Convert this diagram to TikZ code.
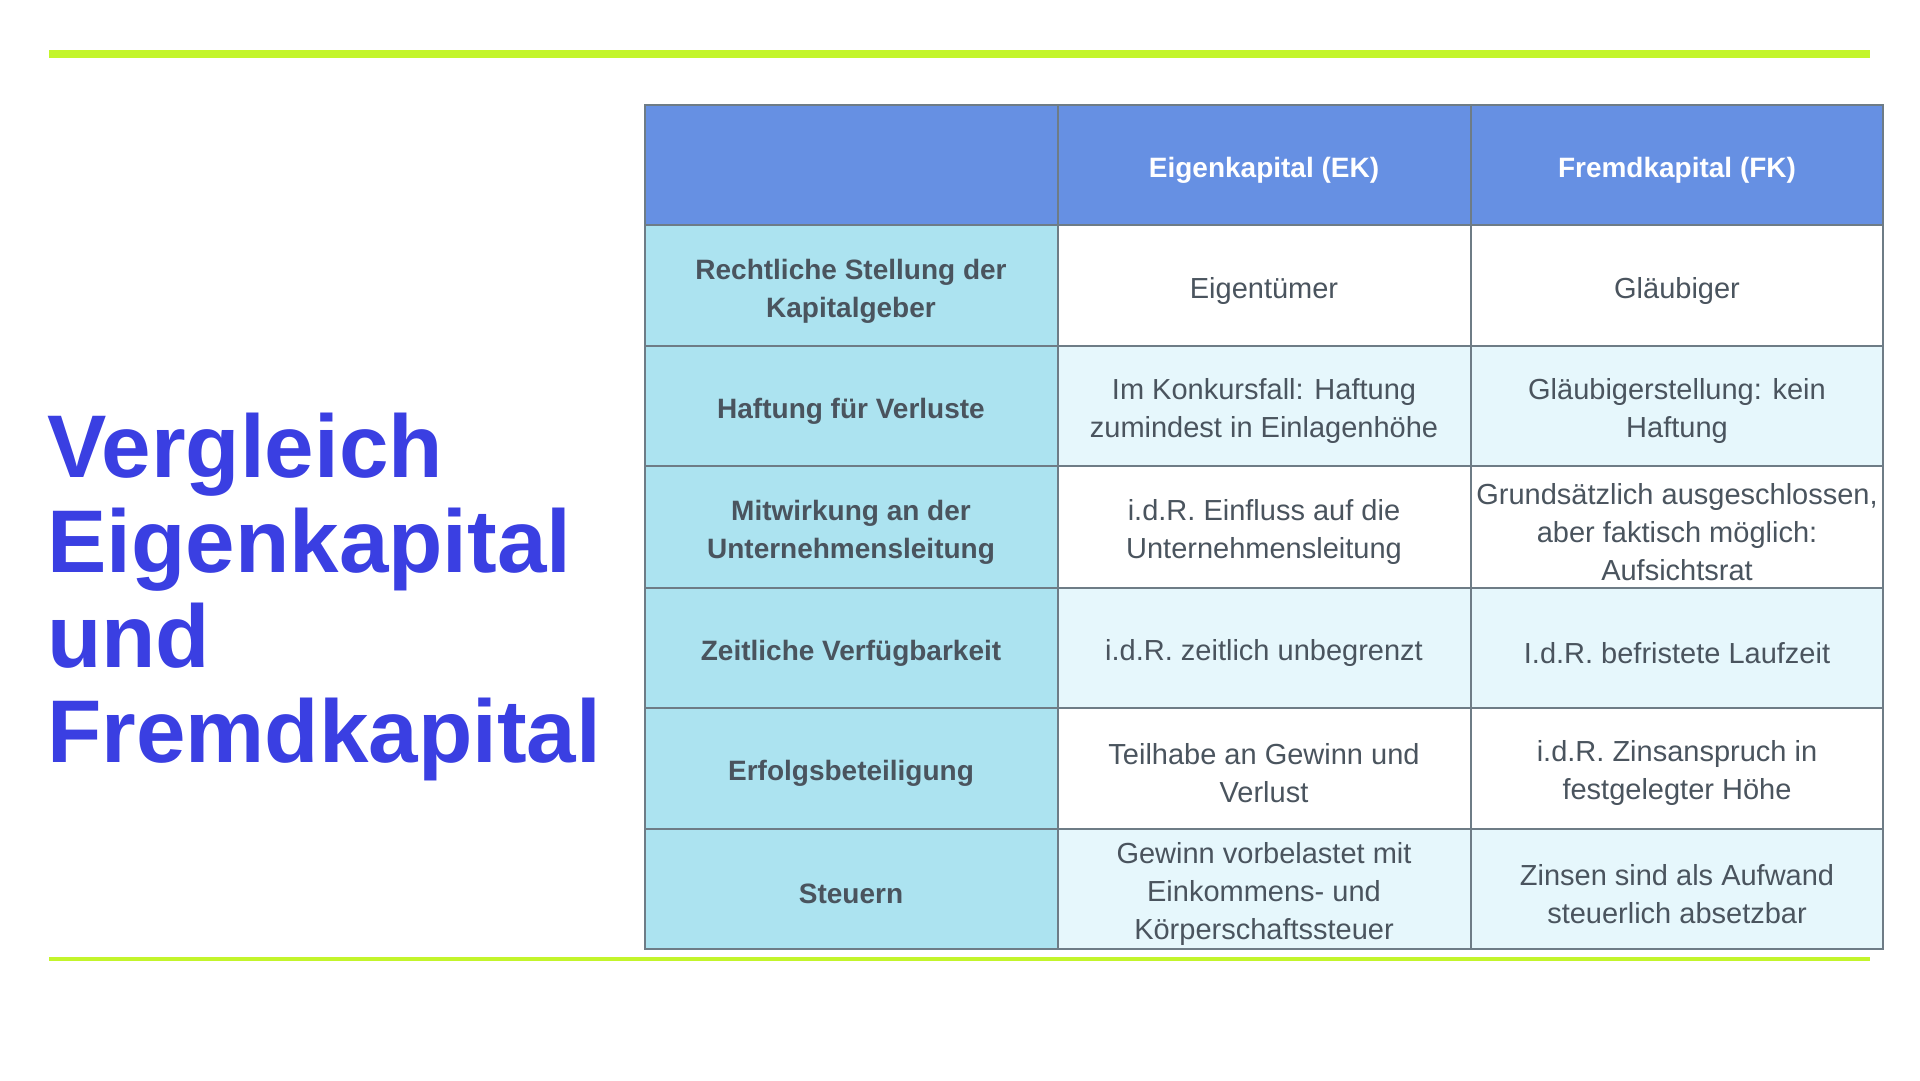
\documentclass[tikz,border=0pt]{standalone}
\usepackage{fontspec}
\setmainfont{Liberation Sans}
\definecolor{limegreen}{HTML}{C3F52B}
\definecolor{titleblue}{HTML}{3A3FE2}
\definecolor{headblue}{HTML}{6690E3}
\definecolor{rowcyan}{HTML}{ACE3F0}
\definecolor{rowlight}{HTML}{E6F7FC}
\definecolor{gridgray}{HTML}{6E7C86}
\definecolor{txtgray}{HTML}{4A545E}
\begin{document}
\begin{tikzpicture}[x=1pt,y=-1pt,
    cell/.style={align=center,text=txtgray,inner sep=0pt,font=\fontsize{29}{38}\selectfont},
    rowhead/.style={align=center,text=txtgray,inner sep=0pt,font=\bfseries\fontsize{28}{38}\selectfont},
    colhead/.style={align=center,text=white,inner sep=0pt,font=\bfseries\fontsize{28}{34}\selectfont},
    gridline/.style={draw=gridgray,line width=1.4pt}]
    \useasboundingbox[fill=white] (0,0) rectangle (1920,1080);

    %% green rules
    \draw[limegreen,line width=8pt] (49,54) to (1870,54);
    \draw[limegreen,line width=3.5pt] (49,959) to (1870,959);

    %% title
    \node[anchor=base west,align=left,inner sep=0pt,text=titleblue,
        font=\bfseries\fontsize{89}{95}\selectfont] (title) at (47,762)
        {Vergleich\\Eigenkapital\\und\\Fremdkapital};

    %% cell fills
    \fill[headblue] (645,105) rectangle (1883,225);
    \fill[rowcyan] (645,225) rectangle (1058,949);
    \fill[rowlight] (1058,346) rectangle (1883,466);
    \fill[rowlight] (1058,588) rectangle (1883,708);
    \fill[rowlight] (1058,829) rectangle (1883,949);

    %% grid
    \draw[gridline] (645,105) rectangle (1883,949);
        \draw[gridline] (645,225) to (1883,225);
        \draw[gridline] (645,346) to (1883,346);
        \draw[gridline] (645,466) to (1883,466);
        \draw[gridline] (645,588) to (1883,588);
        \draw[gridline] (645,708) to (1883,708);
        \draw[gridline] (645,829) to (1883,829);
    \draw[gridline] (1058,105) to (1058,949);
    \draw[gridline] (1471,105) to (1471,949);

    %% header
    \node[colhead] (hek) at (1264,170) {Eigenkapital (EK)};
    \node[colhead] (hfk) at (1677,170) {Fremdkapital (FK)};

    %% row labels
    \node[rowhead] (rstell) at (851,291) {Rechtliche Stellung der\\Kapitalgeber};
    \node[rowhead] (rhaft) at (851,411) {Haftung für Verluste};
    \node[rowhead] (rmitw) at (851,532) {Mitwirkung an der\\Unternehmensleitung};
    \node[rowhead] (rzeit) at (851,653) {Zeitliche Verfügbarkeit};
    \node[rowhead] (rerf) at (851,773) {Erfolgsbeteiligung};
    \node[rowhead] (rsteu) at (851,894) {Steuern};

    %% EK column
    \node[cell] (ekstell) at (1264,291) {Eigentümer};
    \node[cell] (ekhaft) at (1264,411) {Im Konkursfall: Haftung\\zumindest in Einlagenhöhe};
    \node[cell] (ekmitw) at (1264,532) {i.d.R. Einfluss auf die\\Unternehmensleitung};
    \node[cell] (ekzeit) at (1264,653) {i.d.R. zeitlich unbegrenzt};
    \node[cell] (ekerf) at (1264,773) {Teilhabe an Gewinn und\\Verlust};
    \node[cell] (eksteu) at (1264,894) {Gewinn vorbelastet mit\\Einkommens- und\\Körperschaftssteuer};

    %% FK column
    \node[cell] (fkstell) at (1677,291) {Gläubiger};
    \node[cell] (fkhaft) at (1677,411) {Gläubigerstellung: kein\\Haftung};
    \node[cell] (fkmitw) at (1677,532) {Grundsätzlich ausgeschlossen,\\aber faktisch möglich:\\Aufsichtsrat};
    \node[cell] (fkzeit) at (1677,653) {I.d.R. befristete Laufzeit};
    \node[cell] (fkerf) at (1677,773) {i.d.R. Zinsanspruch in\\festgelegter Höhe};
    \node[cell] (fksteu) at (1677,894) {Zinsen sind als Aufwand\\steuerlich absetzbar};
\end{tikzpicture}
\end{document}
